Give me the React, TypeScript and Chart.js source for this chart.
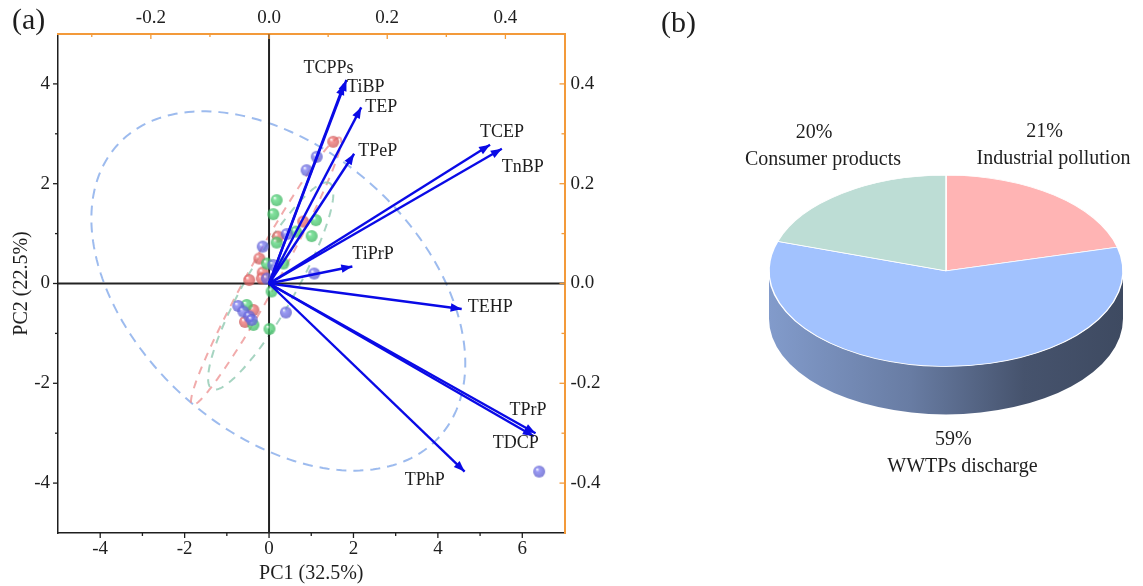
import React, { useEffect, useRef } from 'react';
import { Chart, registerables } from 'chart.js';

Chart.register(...registerables);

const SERIF = '"Liberation Serif", "Times New Roman", Times, serif';
const TEXT = '#1e1e1e';
const ORANGE = '#F39A3A';
const ARROW = '#0a0ae6';

// ---------------- Panel (a): PCA biplot ----------------
// sample scores (PC1, PC2)
const redPC1 = [1.52, 0.81, 0.21, -0.23, -0.15, -0.17, -0.47, -0.37, -0.57];
const redPC2 = [2.84, 1.24, 0.94, 0.5, 0.22, 0.1, 0.07, -0.53, -0.77];
const greenPC1 = [0.18, 0.1, 1.11, 1.01, 0.64, 0.18, -0.05, 0.34, 0.06, -0.53, -0.37, 0.01];
const greenPC2 = [1.67, 1.39, 1.27, 0.95, 1.04, 0.82, 0.4, 0.4, -0.16, -0.43, -0.83, -0.91];
const bluePC1 = [1.13, 0.89, 0.42, -0.15, 0.1, 1.07, -0.05, -0.73, -0.61, -0.47, -0.41, 0.4, 6.4];
const bluePC2 = [2.54, 2.27, 0.99, 0.74, 0.37, 0.2, 0.1, -0.45, -0.56, -0.66, -0.73, -0.58, -3.77];

// variable loadings (top / right axes)
const loadingNames = ['TCPPs', 'TiBP', 'TEP', 'TPeP', 'TCEP', 'TnBP', 'TiPrP', 'TEHP', 'TPrP', 'TDCP', 'TPhP'];
const loading1 = [0.131, 0.127, 0.156, 0.144, 0.374, 0.394, 0.141, 0.326, 0.451, 0.448, 0.331];
const loading2 = [0.408, 0.4, 0.353, 0.26, 0.278, 0.27, 0.034, -0.051, -0.3, -0.306, -0.377];

// confidence ellipses (blue, red, green groups) in PC units
const ellipseCX = [0.22, -0.07, 0.04];
const ellipseCY = [-0.15, 0.245, -0.05];
const ellipseA = [4.85, 3.2, 2.49];
const ellipseB = [3.01, 0.34, 0.56];
const ellipseAngle = [-31.3, 56.7, 55.5];

// tick values
const pc1Ticks = [-4, -3, -2, -1, 0, 1, 2, 3, 4, 5, 6];
const pc2Ticks = [-4, -3, -2, -1, 0, 1, 2, 3, 4];
const load1Ticks = [-0.3, -0.2, -0.1, 0, 0.1, 0.2, 0.3, 0.4];
const load2Ticks = [-0.4, -0.3, -0.2, -0.1, 0, 0.1, 0.2, 0.3, 0.4];

// ---------------- Panel (b): source apportionment ----------------
const sourceLabels = ['Industrial pollution', 'WWTPs discharge', 'Consumer products'];
const sourceShares = [21, 59, 20];

// ---------- styles ----------
const ellipseColors = ['rgba(140,175,235,0.85)', 'rgba(238,150,150,0.8)', 'rgba(150,205,182,0.85)'];
const ellipseDash = [[10, 7], [8, 7], [8, 7]];
const labelOffsets: [number, number][] = [
  [-43, -12], [3, 3], [4, 0], [4, -2], [-10, -13], [0, 18], [0, -12], [6, -2], [-26, -23], [-41, 7], [-60, 9],
];
const sliceColors = ['#FFB4B4', '#A2C2FE', '#BDDDD5'];
const sliceRGB = [[255, 180, 180], [162, 194, 254], [189, 221, 213]];
const pieLabelOffsets: [number, number][] = [[-1, -37], [22, 100], [-19, -34]];
const TILT = 0.54;
const DEPTH = 48;

function makeBall(r: number, g: number, b: number, radius: number) {
  const s = Math.ceil(radius * 2) + 2;
  const c = document.createElement('canvas');
  c.width = s;
  c.height = s;
  const ctx = c.getContext('2d')!;
  const cx = s / 2, cy = s / 2;
  const grad = ctx.createRadialGradient(cx - radius * 0.35, cy - radius * 0.4, radius * 0.05, cx, cy, radius);
  grad.addColorStop(0, 'rgba(255,255,255,0.9)');
  grad.addColorStop(0.3, `rgba(${r},${g},${b},0.72)`);
  grad.addColorStop(1, `rgba(${Math.round(r * 0.85)},${Math.round(g * 0.85)},${Math.round(b * 0.85)},0.8)`);
  ctx.fillStyle = grad;
  ctx.beginPath();
  ctx.arc(cx, cy, radius, 0, Math.PI * 2);
  ctx.fill();
  return c;
}

const tickFont = { family: SERIF, size: 19 };
const titleFont = { family: SERIF, size: 20 };

function drawTickMarks(ctx: CanvasRenderingContext2D, scale: any, side: string, color: string, isMajor: (v: number) => boolean) {
  ctx.save();
  ctx.strokeStyle = color;
  ctx.lineWidth = 1.3;
  scale.ticks.forEach((t: any) => {
    const len = isMajor(t.value) ? 5 : 3;
    const p = scale.getPixelForValue(t.value);
    ctx.beginPath();
    if (side === 'bottom') { ctx.moveTo(p, scale.top); ctx.lineTo(p, scale.top + len); }
    else if (side === 'top') { ctx.moveTo(p, scale.bottom); ctx.lineTo(p, scale.bottom + len); }
    else if (side === 'left') { ctx.moveTo(scale.right, p); ctx.lineTo(scale.right - len, p); }
    else { ctx.moveTo(scale.left, p); ctx.lineTo(scale.left - len, p); }
    ctx.stroke();
  });
  ctx.restore();
}

const evenInt = (v: number) => Math.round(v) % 2 === 0;
const evenTenth = (v: number) => Math.round(v * 10) % 2 === 0;

const biplotPlugin = {
  id: 'biplot',
  beforeDatasetsDraw(chart: any) {
    const { ctx, chartArea: ca, scales } = chart;
    const xs = scales.x, ys = scales.y;
    ctx.save();
    ctx.beginPath();
    ctx.rect(ca.left, ca.top, ca.right - ca.left, ca.bottom - ca.top);
    ctx.clip();
    for (let i = 0; i < ellipseCX.length; i++) {
      const th = (ellipseAngle[i] * Math.PI) / 180;
      ctx.strokeStyle = ellipseColors[i];
      ctx.lineWidth = 2;
      ctx.setLineDash(ellipseDash[i]);
      ctx.beginPath();
      for (let k = 0; k <= 240; k++) {
        const t = (k / 240) * Math.PI * 2;
        const ex = ellipseCX[i] + ellipseA[i] * Math.cos(t) * Math.cos(th) - ellipseB[i] * Math.sin(t) * Math.sin(th);
        const ey = ellipseCY[i] + ellipseA[i] * Math.cos(t) * Math.sin(th) + ellipseB[i] * Math.sin(t) * Math.cos(th);
        const px = xs.getPixelForValue(ex), py = ys.getPixelForValue(ey);
        if (k === 0) ctx.moveTo(px, py); else ctx.lineTo(px, py);
      }
      ctx.stroke();
    }
    ctx.setLineDash([]);
    ctx.strokeStyle = '#222';
    ctx.lineWidth = 2;
    const x0 = xs.getPixelForValue(0), y0 = ys.getPixelForValue(0);
    ctx.beginPath();
    ctx.moveTo(x0, ca.top); ctx.lineTo(x0, ca.bottom);
    ctx.moveTo(ca.left, y0); ctx.lineTo(ca.right, y0);
    ctx.stroke();
    ctx.restore();
  },
  afterDatasetsDraw(chart: any) {
    const { ctx } = chart;
    ctx.save();
    ctx.font = `18px ${SERIF}`;
    ctx.textBaseline = 'middle';
    ctx.textAlign = 'left';
    for (let i = 0; i < loadingNames.length; i++) {
      const meta = chart.getDatasetMeta(i);
      const p0 = meta.data[0], p1 = meta.data[1];
      const ang = Math.atan2(p1.y - p0.y, p1.x - p0.x);
      const L = 11, W = 4.2;
      const bx = p1.x - L * Math.cos(ang), by = p1.y - L * Math.sin(ang);
      ctx.fillStyle = ARROW;
      ctx.beginPath();
      ctx.moveTo(p1.x, p1.y);
      ctx.lineTo(bx + W * Math.sin(ang), by - W * Math.cos(ang));
      ctx.lineTo(bx - W * Math.sin(ang), by + W * Math.cos(ang));
      ctx.closePath();
      ctx.fill();
      ctx.fillStyle = TEXT;
      ctx.fillText(loadingNames[i], p1.x + labelOffsets[i][0], p1.y + labelOffsets[i][1]);
    }
    ctx.restore();
  },
  afterDraw(chart: any) {
    const { ctx, scales } = chart;
    drawTickMarks(ctx, scales.x, 'bottom', TEXT, evenInt);
    drawTickMarks(ctx, scales.y, 'left', TEXT, evenInt);
    drawTickMarks(ctx, scales.x2, 'top', ORANGE, evenTenth);
    drawTickMarks(ctx, scales.y2, 'right', ORANGE, evenTenth);
    ctx.save();
    ctx.fillStyle = TEXT;
    ctx.font = `30px ${SERIF}`;
    ctx.textBaseline = 'middle';
    ctx.textAlign = 'left';
    ctx.fillText('(a)', 12, 21);
    ctx.restore();
  },
};

const pie3dPlugin = {
  id: 'pie3d',
  beforeDatasetsDraw(chart: any) {
    const { ctx } = chart;
    const arcs = chart.getDatasetMeta(0).data as any[];
    const cx = arcs[0].x, cy = arcs[0].y, r = arcs[0].outerRadius;
    const ry = r * TILT;
    arcs.forEach((arc: any, i: number) => {
      const s = Math.max(arc.startAngle, 0), e = Math.min(arc.endAngle, Math.PI);
      if (e <= s) return;
      const [cr, cg, cb] = sliceRGB[i];
      const shade = (f: number) => `rgb(${Math.round(cr * f)},${Math.round(cg * f)},${Math.round(cb * f)})`;
      const grad = ctx.createLinearGradient(cx - r, 0, cx + r, 0);
      grad.addColorStop(0, shade(0.8));
      grad.addColorStop(0.4, shade(0.64));
      grad.addColorStop(0.72, shade(0.43));
      grad.addColorStop(1, shade(0.38));
      ctx.save();
      ctx.fillStyle = grad;
      ctx.beginPath();
      ctx.ellipse(cx, cy, r, ry, 0, s, e, false);
      ctx.lineTo(cx + r * Math.cos(e), cy + ry * Math.sin(e) + DEPTH);
      ctx.ellipse(cx, cy + DEPTH, r, ry, 0, e, s, true);
      ctx.closePath();
      ctx.fill();
      ctx.restore();
    });
    ctx.save();
    ctx.translate(cx, cy);
    ctx.scale(1, TILT);
    ctx.translate(-cx, -cy);
  },
  afterDatasetsDraw(chart: any) {
    const { ctx } = chart;
    ctx.restore();
    const arcs = chart.getDatasetMeta(0).data as any[];
    const cx = arcs[0].x, cy = arcs[0].y, r = arcs[0].outerRadius;
    const ry = r * TILT;
    const total = sourceShares.reduce((a, b) => a + b, 0);
    ctx.save();
    ctx.fillStyle = TEXT;
    ctx.font = `20px ${SERIF}`;
    ctx.textAlign = 'center';
    ctx.textBaseline = 'middle';
    arcs.forEach((arc: any, i: number) => {
      const m = (arc.startAngle + arc.endAngle) / 2;
      const ax = cx + r * Math.cos(m) + pieLabelOffsets[i][0];
      const ay = cy + ry * Math.sin(m) + pieLabelOffsets[i][1];
      ctx.fillText(sourceLabels[i], ax, ay);
      ctx.fillText(`${Math.round((sourceShares[i] / total) * 100)}%`, ax - 9, ay - 27);
    });
    ctx.font = `30px ${SERIF}`;
    ctx.textAlign = 'left';
    ctx.fillText('(b)', 41, 24);
    ctx.restore();
  },
};

export default function App() {
  const refA = useRef<HTMLCanvasElement>(null);
  const refB = useRef<HTMLCanvasElement>(null);

  useEffect(() => {
    const redBall = makeBall(240, 110, 110, 6);
    const greenBall = makeBall(80, 215, 120, 6);
    const blueBall = makeBall(115, 115, 240, 6);

    const arrowSets = loadingNames.map((name, i) => ({
      label: name,
      data: [{ x: 0, y: 0 }, { x: loading1[i], y: loading2[i] }],
      xAxisID: 'x2',
      yAxisID: 'y2',
      showLine: true,
      borderColor: ARROW,
      backgroundColor: ARROW,
      borderWidth: 2.4,
      pointRadius: 0,
      pointHoverRadius: 0,
      tension: 0,
    }));
    const scoreSet = (label: string, xs: number[], ys: number[], ball: HTMLCanvasElement) => ({
      label,
      data: xs.map((x, i) => ({ x, y: ys[i] })),
      xAxisID: 'x',
      yAxisID: 'y',
      showLine: false,
      pointStyle: ball,
      pointRadius: 6,
      pointHoverRadius: 6,
    });

    const chartA = new Chart(refA.current!, {
      type: 'scatter',
      data: {
        datasets: [
          ...arrowSets,
          scoreSet('Blue group', bluePC1, bluePC2, blueBall),
          scoreSet('Green group', greenPC1, greenPC2, greenBall),
          scoreSet('Red group', redPC1, redPC2, redBall),
        ] as any,
      },
      options: {
        responsive: true,
        maintainAspectRatio: false,
        animation: false,
        events: [],
        layout: { padding: 0 },
        plugins: { legend: { display: false }, tooltip: { enabled: false } },
        scales: {
          x: {
            type: 'linear', position: 'bottom', min: -5, max: 7,
            grid: { display: false, drawTicks: false },
            border: { display: true, color: TEXT, width: 1.5 },
            ticks: { font: tickFont, color: TEXT, padding: 5, autoSkip: false, maxRotation: 0,
              callback: (v: any) => (evenInt(v) ? String(v) : '') },
            afterBuildTicks: (s: any) => { s.ticks = pc1Ticks.map((v) => ({ value: v })); },
            afterFit: (s: any) => { s.height = 53; },
            title: { display: true, text: 'PC1 (32.5%)', font: titleFont, color: TEXT, padding: { top: 0, bottom: 0 } },
          },
          y: {
            type: 'linear', position: 'left', min: -5, max: 5,
            grid: { display: false, drawTicks: false },
            border: { display: true, color: TEXT, width: 1.5 },
            ticks: { font: tickFont, color: TEXT, padding: 8, autoSkip: false,
              callback: (v: any) => (evenInt(v) ? String(v) : '') },
            afterBuildTicks: (s: any) => { s.ticks = pc2Ticks.map((v) => ({ value: v })); },
            afterFit: (s: any) => { s.width = 58; },
            title: { display: true, text: 'PC2 (22.5%)', font: titleFont, color: TEXT, padding: { top: 10, bottom: 0 } },
          },
          x2: {
            type: 'linear', position: 'top', min: -5 / 14, max: 0.5,
            grid: { display: false, drawTicks: false },
            border: { display: true, color: ORANGE, width: 2 },
            ticks: { font: tickFont, color: TEXT, padding: 5, autoSkip: false, maxRotation: 0,
              callback: (v: any) => (evenTenth(v) ? Number(v).toFixed(1) : '') },
            afterBuildTicks: (s: any) => { s.ticks = load1Ticks.map((v) => ({ value: v })); },
            afterFit: (s: any) => { s.height = 34; },
          },
          y2: {
            type: 'linear', position: 'right', min: -0.5, max: 0.5,
            grid: { display: false, drawTicks: false },
            border: { display: true, color: ORANGE, width: 2 },
            ticks: { font: tickFont, color: TEXT, padding: 6, autoSkip: false,
              callback: (v: any) => (evenTenth(v) ? Number(v).toFixed(1) : '') },
            afterBuildTicks: (s: any) => { s.ticks = load2Ticks.map((v) => ({ value: v })); },
            afterFit: (s: any) => { s.width = 55.5; },
          },
        },
      } as any,
      plugins: [biplotPlugin],
    });

    const chartB = new Chart(refB.current!, {
      type: 'pie',
      data: {
        labels: sourceLabels,
        datasets: [{ data: sourceShares, backgroundColor: sliceColors, borderColor: '#ffffff', borderWidth: 1.5 }],
      },
      options: {
        responsive: true,
        maintainAspectRatio: false,
        animation: false,
        events: [],
        radius: 177,
        layout: { padding: { left: 149, right: 20, top: 94, bottom: 138.4 } },
        plugins: { legend: { display: false }, tooltip: { enabled: false } },
      } as any,
      plugins: [pie3dPlugin],
    });

    return () => {
      chartA.destroy();
      chartB.destroy();
    };
  }, []);

  return (
    <div style={{ position: 'absolute', left: 0, top: 0, width: 1143, height: 586, background: '#ffffff' }}>
      <div style={{ position: 'absolute', left: 0, top: 0, width: 620, height: 586 }}>
        <canvas ref={refA} />
      </div>
      <div style={{ position: 'absolute', left: 620, top: 0, width: 523, height: 586 }}>
        <canvas ref={refB} />
      </div>
    </div>
  );
}
